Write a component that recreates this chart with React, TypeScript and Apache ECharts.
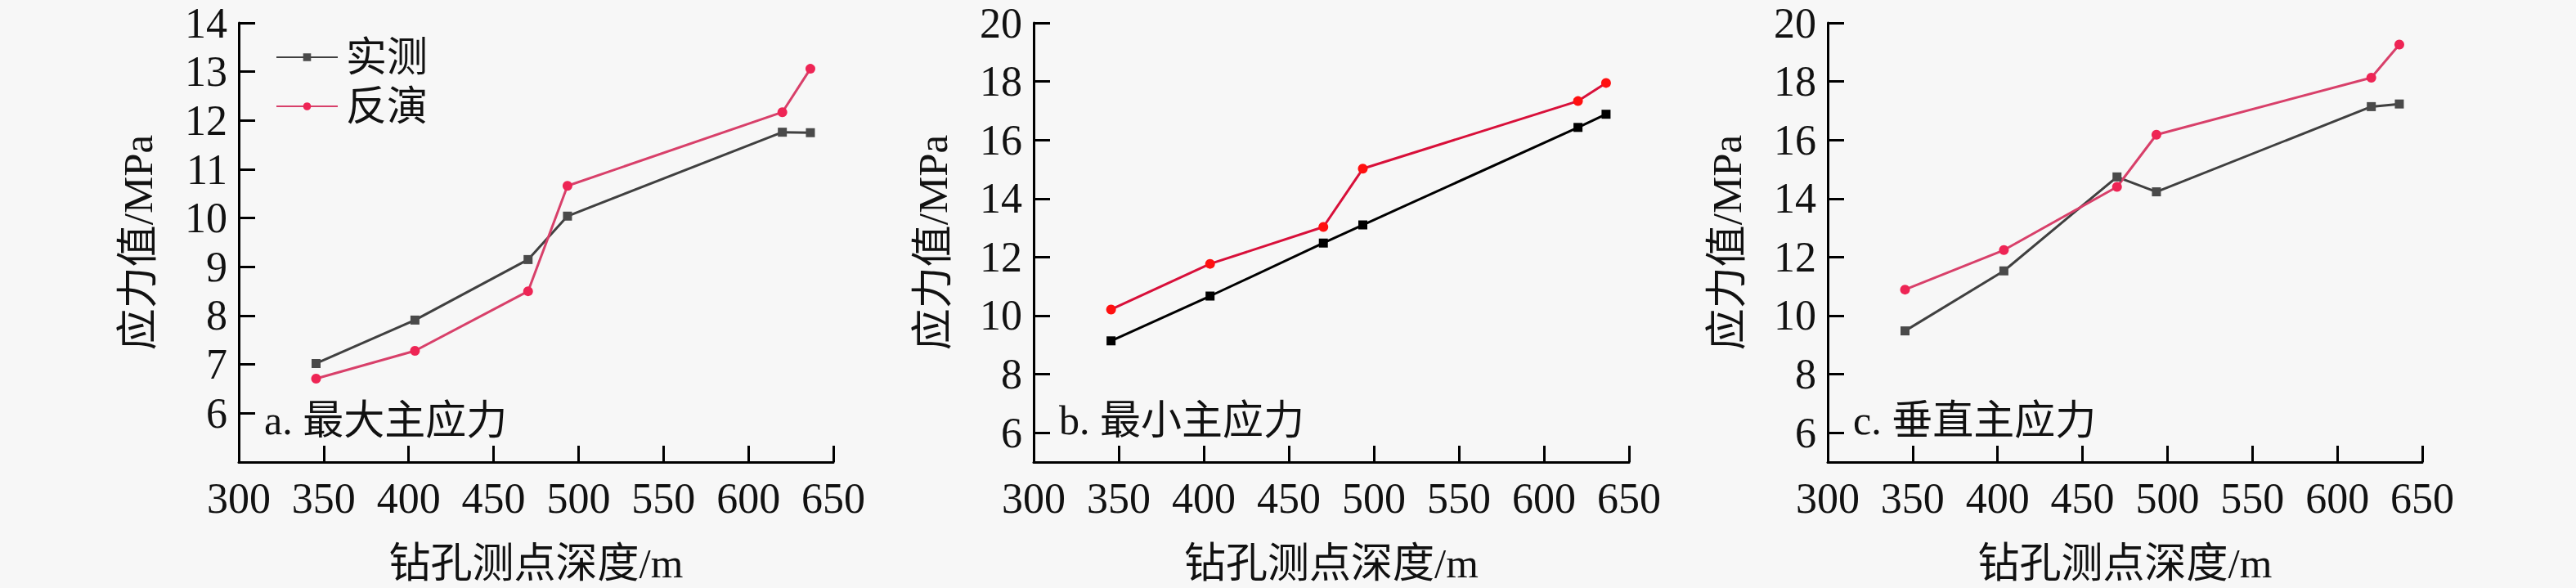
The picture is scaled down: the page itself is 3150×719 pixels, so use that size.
import React, { useEffect, useRef } from "react";
import * as echarts from "echarts";

const depths = [345.5, 403.7, 470.3, 493.5, 620, 636.5];
const maxMeasured = [7.02, 7.91, 9.15, 10.04, 11.76, 11.75];
const maxInverted = [6.71, 7.28, 8.5, 10.66, 12.17, 13.06];
const minMeasured = [9.14, 10.67, 12.48, 13.1, 16.43, 16.88];
const minInverted = [10.21, 11.77, 13.03, 15.02, 17.33, 17.95];
const vertMeasured = [9.48, 11.53, 14.74, 14.23, 17.14, 17.23];
const vertInverted = [10.89, 12.24, 14.4, 16.18, 18.13, 19.26];

const ticksA = [6, 7, 8, 9, 10, 11, 12, 13, 14];
const ticksBC = [6, 8, 10, 12, 14, 16, 18, 20];
const panelLabels = ["a. 最大主应力", "b. 最小主应力", "c. 垂直主应力"];
const xName = "钻孔测点深度/m";
const yName = "应力值/MPa";
const seriesNames = ["实测", "反演"];

const FONT = "'Liberation Serif', 'Noto Sans CJK SC', serif";
const grids = [
  { left: 292, width: 727 },
  { left: 1264, width: 728 },
  { left: 2235, width: 727 },
];
const colors = [
  { m: "#404040", mSym: "#4a4a4a", i: "#d8406a", iSym: "#ee2555" },
  { m: "#000000", mSym: "#000000", i: "#d8103a", iSym: "#ff1010" },
  { m: "#404040", mSym: "#4a4a4a", i: "#d8406a", iSym: "#ee2555" },
];

export default function App() {
  const ref = useRef<HTMLDivElement>(null);
  useEffect(() => {
    if (!ref.current) return;
    const chart = echarts.init(ref.current, null, { renderer: "svg" });
    const axisLine = { show: true, lineStyle: { color: "#000", width: 3 } };
    const axisTick = { show: true, inside: true, length: 20, lineStyle: { color: "#000", width: 3 } };
    const labelStyle = { color: "#111", fontSize: 52, fontFamily: FONT };
    const nameStyle = { color: "#111", fontSize: 51, fontFamily: FONT };

    const pairs = [
      [maxMeasured, maxInverted],
      [minMeasured, minInverted],
      [vertMeasured, vertInverted],
    ];
    const series: any[] = [];
    pairs.forEach((p, gi) => {
      series.push({
        name: seriesNames[0],
        type: "line",
        xAxisIndex: gi,
        yAxisIndex: gi,
        data: depths.map((d, k) => [d, p[0][k]]),
        symbol: "rect",
        symbolSize: 11,
        lineStyle: { color: colors[gi].m, width: 3 },
        itemStyle: { color: colors[gi].mSym },
      });
      series.push({
        name: seriesNames[1],
        type: "line",
        xAxisIndex: gi,
        yAxisIndex: gi,
        data: depths.map((d, k) => [d, p[1][k]]),
        symbol: "circle",
        symbolSize: 12,
        lineStyle: { color: colors[gi].i, width: 3 },
        itemStyle: { color: colors[gi].iSym },
      });
    });

    chart.setOption({
      animation: false,
      backgroundColor: "#f7f7f7",
      grid: grids.map((g) => ({ left: g.left, width: g.width, top: 28, height: 537 })),
      legend: {
        data: seriesNames,
        orient: "vertical",
        left: 332,
        top: 40,
        itemWidth: 75,
        itemHeight: 12,
        itemGap: 10,
        textStyle: { color: "#111", fontSize: 50, fontFamily: FONT, lineHeight: 50, padding: [0, 0, 0, 5] },
      },
      xAxis: grids.map((_, gi) => ({
        type: "value",
        gridIndex: gi,
        min: 300,
        max: 650,
        interval: 50,
        name: xName,
        nameLocation: "middle",
        nameGap: 98,
        nameTextStyle: nameStyle,
        axisLine,
        axisTick,
        splitLine: { show: false },
        axisLabel: { ...labelStyle, margin: 18 },
      })),
      yAxis: grids.map((_, gi) => ({
        type: "value",
        gridIndex: gi,
        min: 5,
        max: gi === 0 ? 14 : 20,
        name: yName,
        nameLocation: "middle",
        nameRotate: 90,
        nameGap: 98,
        nameTextStyle: nameStyle,
        axisLine,
        axisTick: { ...axisTick, customValues: gi === 0 ? ticksA : ticksBC },
        splitLine: { show: false },
        axisLabel: { ...labelStyle, margin: 14, customValues: gi === 0 ? ticksA : ticksBC },
      })),
      graphic: panelLabels.map((t, gi) => ({
        type: "text",
        x: grids[gi].left + 31,
        y: 514,
        style: { text: t, fontSize: 50, fontFamily: FONT, fill: "#111", verticalAlign: "middle" },
      })),
      series,
    });
    return () => chart.dispose();
  }, []);
  return (
    <div
      ref={ref}
      style={{ position: "fixed", left: 0, top: 0, width: 3150, height: 719 }}
    />
  );
}
